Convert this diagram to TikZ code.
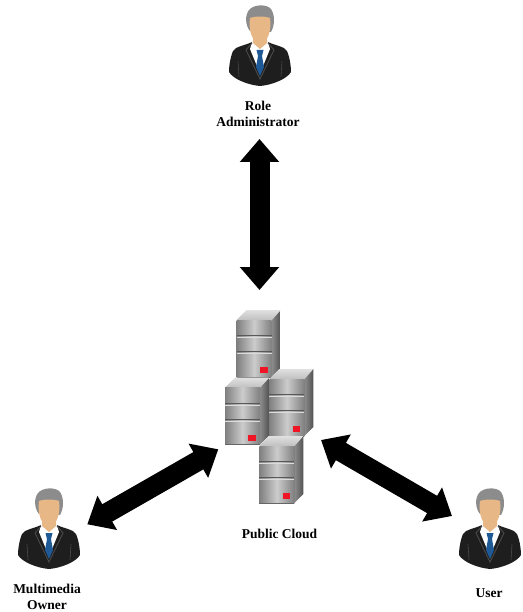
\documentclass[tikz,border=0pt]{standalone}
\usepackage{fontspec}
\setmainfont{Liberation Serif}
\usetikzlibrary{arrows.meta}
\definecolor{jacket}{HTML}{1E1E1E}
\definecolor{lapel}{HTML}{4A4A4A}
\definecolor{skin}{HTML}{E8B786}
\definecolor{hair}{HTML}{8C8C8C}
\definecolor{tie}{HTML}{1F5A96}
\definecolor{srvred}{HTML}{F01525}
\tikzset{
  x=1pt,y=-1pt,
  caption/.style={font=\bfseries\fontsize{13.5}{16}\selectfont,align=center,inner sep=0pt,text=black},
  bigarrow/.style={line width=20pt,color=black,{Triangle[length=23pt,width=38pt]}-{Triangle[length=23pt,width=38pt]}},
  person/.pic={
    % jacket
    \fill[jacket] (-8,37) .. controls (-16,41) and (-24,41) .. (-27,46)
      .. controls (-30,53) and (-31,62) .. (-31,67)
      .. controls (-27,74) and (-12,80) .. (0,81)
      .. controls (12,80) and (27,74) .. (31,67)
      .. controls (31,62) and (30,53) .. (27,46)
      .. controls (24,41) and (16,41) .. (8,37) -- cycle;
    % shirt
    \fill[white] (-8,37) -- (8,37) -- (10,44) -- (1,66) -- (-1,66) -- (-10,44) -- cycle;
    % lapel lines
    \draw[lapel,line width=0.9pt] (-8,38) -- (-14,45) -- (0,74) -- (14,45) -- (8,38);
    \draw[lapel,line width=0.6pt] (-22,56) -- (-21,72);
    \draw[lapel,line width=0.6pt] (22,56) -- (21,72);
    % tie
    \fill[tie] (-3.5,45) -- (3.5,45) -- (2,51) -- (4,62) -- (0,71) -- (-4,62) -- (-2,51) -- cycle;
    % hair
    \fill[hair] (-10,26) .. controls (-15,20) and (-15,10) .. (-11,5)
      .. controls (-6,-1) and (7,-1) .. (11,4)
      .. controls (15,10) and (15,20) .. (11,27) -- cycle;
    % neck and face
    \fill[skin] (-7,30) -- (7,30) -- (7,38) -- (0,44) -- (-7,38) -- cycle;
    \fill[skin] (-10,13) .. controls (-5,11) and (5,11) .. (10,13)
      .. controls (11.5,24) and (9,37) .. (0,37.5)
      .. controls (-9,37) and (-11.5,24) .. (-10,13) -- cycle;
  },
  server/.pic={
    % side
    \shade[left color=black!45,right color=black!68] (35,0) -- (44,-10) -- (44,48) -- (35,57) -- cycle;
    % top
    \shade[top color=black!12,bottom color=black!25] (0,0) -- (10,-10) -- (44,-10) -- (35,0) -- cycle;
    % front
    \shade[left color=black!50,right color=black!50,middle color=black!20] (0,0) rectangle (35,57);
    \draw[black!65,line width=0.8pt] (0,15.2) -- (35,15.2);
    \draw[black!14,line width=0.7pt] (0,17.2) -- (35,17.2);
    \draw[black!65,line width=0.8pt] (0,31.8) -- (35,31.8);
    \draw[black!14,line width=0.7pt] (0,33.6) -- (35,33.6);
    \draw[black!60,line width=0.8pt] (0,57) -- (35,57);
    \fill[srvred] (23.3,47.3) rectangle (31,53);
  }
}
\begin{document}
\begin{tikzpicture}
\useasboundingbox (0,0) rectangle (522,612);
% servers
\pic at (236.7,320) {server};
\pic at (225,387.7) {server};
\pic at (269.3,379) {server};
\pic at (259.3,446) {server};
% persons
\pic at (260,5) {person};
\pic at (49,488) {person};
\pic at (490,488) {person};
% labels
\node[caption] (role) at (258,114) {Role\\Administrator};
\node[caption] (cloud) at (279.5,533.5) {Public Cloud};
\node[caption] (owner) at (47,597) {Multimedia\\Owner};
\node[caption] (usr) at (489,593) {User};
% arrow ends
\coordinate (roleEnd) at (259.5,139);
\coordinate (cloudTop) at (259.5,290);
\coordinate (ownerEnd) at (87.3,524.3);
\coordinate (cloudLeft) at (218.3,449.3);
\coordinate (cloudRight) at (321,440);
\coordinate (userEnd) at (452,516);
\draw[bigarrow] (roleEnd) -- (cloudTop);
\draw[bigarrow] (ownerEnd) -- (cloudLeft);
\draw[bigarrow] (cloudRight) -- (userEnd);
\end{tikzpicture}
\end{document}
